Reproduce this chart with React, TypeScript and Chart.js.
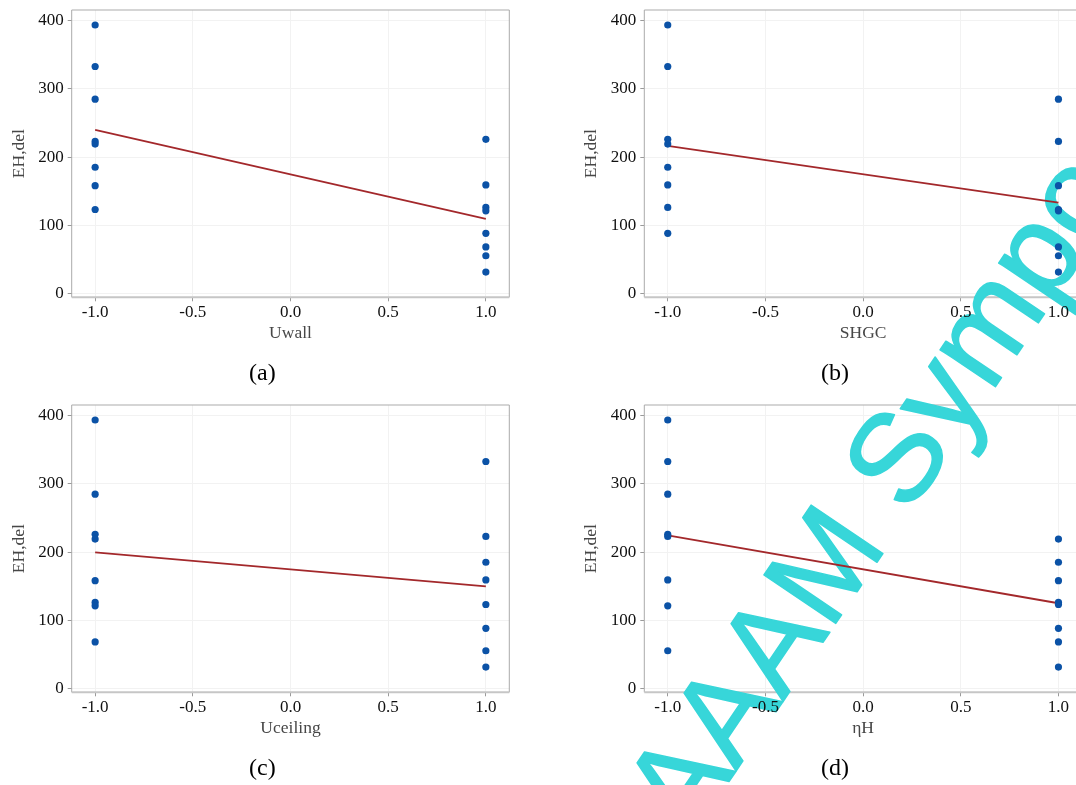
import React, { useEffect, useRef } from "react";
import { Chart, registerables } from "chart.js";

Chart.register(...registerables);

// ---------- data ----------
const X_TICKS = [-1, -0.5, 0, 0.5, 1];
const Y_TICKS = [0, 100, 200, 300, 400];
const X_LOW = -1;
const X_HIGH = 1;

const UWALL_LOW = [394, 333, 285, 223, 219, 185, 158, 123];
const UWALL_HIGH = [226, 159, 126, 121, 88, 68, 55, 31];
const UWALL_FIT = [240, 109.3];

const SHGC_LOW = [394, 333, 226, 219, 185, 159, 126, 88];
const SHGC_HIGH = [285, 223, 158, 123, 121, 68, 55, 31];
const SHGC_FIT = [216.3, 133];

const UCEIL_LOW = [394, 285, 226, 219, 158, 126, 121, 68];
const UCEIL_HIGH = [333, 223, 185, 159, 123, 88, 55, 31];
const UCEIL_FIT = [199.6, 149.6];

const ETAH_LOW = [394, 333, 285, 226, 223, 159, 121, 55];
const ETAH_HIGH = [219, 185, 158, 126, 123, 88, 68, 31];
const ETAH_FIT = [224.5, 124.8];

const X_TITLES = ["Uwall", "SHGC", "Uceiling", "ηH"];
const Y_TITLE = "EH,del";
const CAPTIONS = ["(a)", "(b)", "(c)", "(d)"];
const WATERMARK = "AAAM Symposium";

// ---------- styling / layout ----------
const SERIF = "'Liberation Serif', 'Times New Roman', serif";
const SANS = "'Liberation Sans', Arial, sans-serif";
const POINT_COLOR = "#0b52a6";
const LINE_COLOR = "#a3282b";
const GRID_COLOR = "#f2f2f2";
const WM_COLOR = "#37d6d9";

const X_MIN = -1.12;
const X_MAX = 1.12;
const Y_MIN = -6;
const Y_MAX = 416;

const PLOT_TOP = 10;
const PLOT_BOTTOM = 297.3;
const X_SCALE_H = 50;

const PANELS = [
  { left: 0, top: 0, w: 572, h: 395, plotLeft: 71.7, plotRight: 509.3, capX: 262.3, low: UWALL_LOW, high: UWALL_HIGH, fit: UWALL_FIT, xt: X_TITLES[0], cap: CAPTIONS[0] },
  { left: 572, top: 0, w: 530, h: 395, plotLeft: 72.3, plotRight: 509.9, capX: 263, low: SHGC_LOW, high: SHGC_HIGH, fit: SHGC_FIT, xt: X_TITLES[1], cap: CAPTIONS[1] },
  { left: 0, top: 395, w: 572, h: 390, plotLeft: 71.7, plotRight: 509.3, capX: 262.3, low: UCEIL_LOW, high: UCEIL_HIGH, fit: UCEIL_FIT, xt: X_TITLES[2], cap: CAPTIONS[2] },
  { left: 572, top: 395, w: 530, h: 390, plotLeft: 72.3, plotRight: 509.9, capX: 263, low: ETAH_LOW, high: ETAH_HIGH, fit: ETAH_FIT, xt: X_TITLES[3], cap: CAPTIONS[3] },
];

const WM_ORIGIN = { x: 689, y: 841 };
const WM_SIZE = 126;
const WM_ANGLE = (-56 * Math.PI) / 180;

function Panel({ cfg }: { cfg: any }) {
  const ref = useRef<HTMLCanvasElement | null>(null);

  useEffect(() => {
    if (!ref.current) return;
    const decor = {
      id: "decor",
      beforeDatasetsDraw(chart: any) {
        const { ctx, chartArea: a } = chart;
        ctx.save();
        // frame
        ctx.lineWidth = 1;
        ctx.strokeStyle = "#ababab";
        ctx.beginPath();
        ctx.moveTo(a.left, a.bottom);
        ctx.lineTo(a.left, a.top);
        ctx.lineTo(a.right, a.top);
        ctx.lineTo(a.right, a.bottom);
        ctx.stroke();
        ctx.lineWidth = 2;
        ctx.strokeStyle = "#c6c6c6";
        ctx.beginPath();
        ctx.moveTo(a.left, a.bottom);
        ctx.lineTo(a.right, a.bottom);
        ctx.stroke();
        ctx.restore();
        // watermark
        ctx.save();
        ctx.translate(-cfg.left, -cfg.top);
        ctx.translate(WM_ORIGIN.x, WM_ORIGIN.y);
        ctx.rotate(WM_ANGLE);
        ctx.font = `${WM_SIZE}px ${SANS}`;
        ctx.fillStyle = WM_COLOR;
        ctx.strokeStyle = WM_COLOR;
        ctx.lineWidth = 1.4;
        ctx.lineJoin = "round";
        ctx.textAlign = "left";
        ctx.textBaseline = "alphabetic";
        ctx.fillText(WATERMARK, 0, 0);
        ctx.strokeText(WATERMARK, 0, 0);
        ctx.restore();
      },
      afterDraw(chart: any) {
        const { ctx } = chart;
        ctx.save();
        ctx.font = `24px ${SERIF}`;
        ctx.fillStyle = "#000";
        ctx.textAlign = "center";
        ctx.textBaseline = "middle";
        ctx.fillText(cfg.cap, cfg.capX, 373.3);
        ctx.restore();
      },
    };

    const chart = new Chart(ref.current, {
      type: "scatter",
      data: {
        datasets: [
          {
            type: "scatter",
            data: [
              ...cfg.low.map((v: number) => ({ x: X_LOW, y: v })),
              ...cfg.high.map((v: number) => ({ x: X_HIGH, y: v })),
            ],
            backgroundColor: POINT_COLOR,
            borderWidth: 0,
            pointRadius: 3.6,
            order: 1,
          },
          {
            type: "line",
            data: [
              { x: X_LOW, y: cfg.fit[0] },
              { x: X_HIGH, y: cfg.fit[1] },
            ],
            borderColor: LINE_COLOR,
            borderWidth: 1.8,
            pointRadius: 0,
            fill: false,
            order: 2,
          } as any,
        ],
      },
      options: {
        responsive: false,
        animation: false,
        events: [],
        layout: {
          padding: {
            top: PLOT_TOP,
            left: 0,
            right: cfg.w - cfg.plotRight,
            bottom: cfg.h - PLOT_BOTTOM - X_SCALE_H,
          },
        },
        plugins: {
          legend: { display: false },
          tooltip: { enabled: false },
          title: { display: false },
        },
        scales: {
          x: {
            type: "linear",
            min: X_MIN,
            max: X_MAX,
            afterBuildTicks: (s: any) => {
              s.ticks = X_TICKS.map((v) => ({ value: v }));
            },
            afterFit: (s: any) => {
              s.height = X_SCALE_H;
              s.paddingLeft = 0;
              s.paddingRight = 0;
              s.paddingTop = 0;
              s.paddingBottom = 0;
            },
            grid: { color: GRID_COLOR, lineWidth: 1, tickColor: "#9a9a9a", tickLength: 4, tickWidth: 1 },
            border: { display: false },
            ticks: {
              z: 1,
              color: "#111",
              font: { family: SERIF, size: 17 },
              padding: 1,
              maxRotation: 0,
              autoSkip: false,
              callback: (v: any) => Number(v).toFixed(1),
            },
            title: {
              display: true,
              text: cfg.xt,
              color: "#474747",
              font: { family: SERIF, size: 17.5 },
              padding: { top: 0, bottom: 3.5 },
            },
          },
          y: {
            type: "linear",
            min: Y_MIN,
            max: Y_MAX,
            afterBuildTicks: (s: any) => {
              s.ticks = Y_TICKS.map((v) => ({ value: v }));
            },
            afterFit: (s: any) => {
              s.width = cfg.plotLeft;
              s.paddingLeft = 0;
              s.paddingRight = 0;
              s.paddingTop = 0;
              s.paddingBottom = 0;
            },
            grid: { color: GRID_COLOR, lineWidth: 1, tickColor: "#9a9a9a", tickLength: 4, tickWidth: 1 },
            border: { display: false },
            ticks: {
              z: 1,
              color: "#111",
              font: { family: SERIF, size: 17 },
              padding: 4,
              autoSkip: false,
              callback: (v: any) => String(v),
            },
            title: {
              display: true,
              text: Y_TITLE,
              color: "#474747",
              font: { family: SERIF, size: 17.5 },
              padding: { top: 8.6, bottom: 0 },
            },
          },
        },
      } as any,
      plugins: [decor],
    });
    return () => chart.destroy();
  }, [cfg]);

  return (
    <canvas
      ref={ref}
      width={cfg.w}
      height={cfg.h}
      style={{ position: "absolute", left: cfg.left, top: cfg.top, width: cfg.w, height: cfg.h }}
    />
  );
}

export default function App() {
  return (
    <div
      style={{
        position: "absolute",
        left: 0,
        top: 0,
        width: 1076,
        height: 785,
        overflow: "hidden",
        background: "#ffffff",
      }}
    >
      {PANELS.map((p, i) => (
        <Panel key={i} cfg={p} />
      ))}
    </div>
  );
}
